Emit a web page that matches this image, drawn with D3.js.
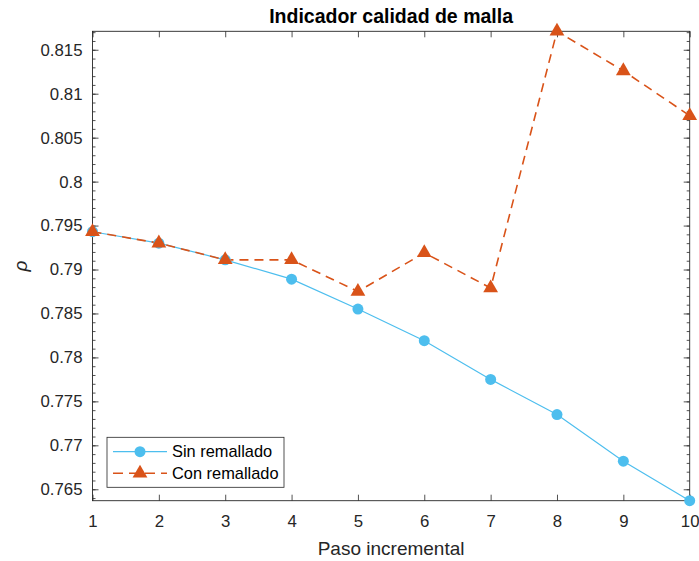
<!DOCTYPE html>
<html>
<head>
<meta charset="utf-8">
<script src="https://cdn.jsdelivr.net/npm/d3@7"></script>
<style>
  html, body { margin: 0; padding: 0; background: #ffffff; }
  svg { display: block; font-family: "Liberation Sans", Arial, Helvetica, sans-serif; }
</style>
</head>
<body>
<svg id="chart" width="699" height="561"></svg>
<script>
const pasos = [1, 2, 3, 4, 5, 6, 7, 8, 9, 10];
const sinRemallado = [0.7943, 0.7930, 0.7911, 0.7889, 0.7855, 0.7819, 0.7775, 0.7735, 0.7682, 0.7637];
const conRemallado = [0.7943, 0.7930, 0.7911, 0.7911, 0.7875, 0.7919, 0.7879, 0.8171, 0.8126, 0.8075];
const xTicks = [1, 2, 3, 4, 5, 6, 7, 8, 9, 10];
const yTicks = [0.765, 0.77, 0.775, 0.78, 0.785, 0.79, 0.795, 0.8, 0.805, 0.81, 0.815];
const yTickLabels = ["0.765", "0.77", "0.775", "0.78", "0.785", "0.79", "0.795", "0.8", "0.805", "0.81", "0.815"];
const seriesNames = ["Sin remallado", "Con remallado"];
const titleText = "Indicador calidad de malla";
const xLabelText = "Paso incremental";
const yLabelText = "ρ";

const W = 699, H = 561;
const L = 92.5, R = 689.7, T = 31.3, B = 500.7;
const axisColor = "#262626";
const cSin = "#4DBEEE", cCon = "#D95319";

const svg = d3.select("#chart");
const allVals = sinRemallado.concat(conRemallado);
const x = d3.scaleLinear().domain([1, 10]).range([L, R]);
const y = d3.scaleLinear().domain([d3.min(allVals), d3.max(allVals)]).range([B, T]);

// minor ticks values
const minor = d3.range(Math.ceil(d3.min(allVals) * 1000), Math.floor(d3.max(allVals) * 1000) + 1).map(v => v / 1000);

// axes
const tickFont = "16.8px";
const gx = svg.append("g").attr("transform", `translate(0,${B})`)
  .call(d3.axisBottom(x).tickValues(xTicks).tickFormat(d3.format("d")).tickSizeInner(-6).tickSizeOuter(0).tickPadding(14));
const gxTop = svg.append("g").attr("transform", `translate(0,${T})`)
  .call(d3.axisTop(x).tickValues(xTicks).tickFormat("").tickSizeInner(-6).tickSizeOuter(0));
const gy = svg.append("g").attr("transform", `translate(${L},0)`)
  .call(d3.axisLeft(y).tickValues(yTicks).tickFormat((d, i) => yTickLabels[i]).tickSizeInner(-6).tickSizeOuter(0).tickPadding(10));
const gyMinor = svg.append("g").attr("transform", `translate(${L},0)`)
  .call(d3.axisLeft(y).tickValues(minor).tickFormat("").tickSizeInner(-3).tickSizeOuter(0));
const gyR = svg.append("g").attr("transform", `translate(${R},0)`)
  .call(d3.axisRight(y).tickValues(yTicks).tickFormat("").tickSizeInner(-6).tickSizeOuter(0));
const gyRMinor = svg.append("g").attr("transform", `translate(${R},0)`)
  .call(d3.axisRight(y).tickValues(minor).tickFormat("").tickSizeInner(-3).tickSizeOuter(0));

[gx, gxTop, gy, gyMinor, gyR, gyRMinor].forEach(g => {
  g.select(".domain").remove();
  g.selectAll(".tick line").attr("stroke", axisColor).attr("stroke-width", 0.8);
  g.selectAll(".tick text").attr("fill", axisColor).style("font-size", tickFont)
    .style("font-family", "'Liberation Sans', Arial, sans-serif");
});
gx.selectAll(".tick text").attr("dy", "0.71em");

// box
svg.append("rect").attr("x", L).attr("y", T).attr("width", R - L).attr("height", B - T)
  .attr("fill", "none").attr("stroke", axisColor).attr("stroke-width", 0.9);

// lines
const line = d3.line().x((d, i) => x(pasos[i])).y(d => y(d));
svg.append("path").datum(sinRemallado).attr("d", line)
  .attr("fill", "none").attr("stroke", cSin).attr("stroke-width", 1.2);
svg.append("path").datum(conRemallado).attr("d", line)
  .attr("fill", "none").attr("stroke", cCon).attr("stroke-width", 1.6).attr("stroke-dasharray", "9,6");

// markers
svg.append("g").selectAll("circle").data(sinRemallado).join("circle")
  .attr("cx", (d, i) => x(pasos[i])).attr("cy", d => y(d)).attr("r", 5.5).attr("fill", cSin);
const tri = d3.symbol().type(d3.symbolTriangle).size(95);
svg.append("g").selectAll("path").data(conRemallado).join("path")
  .attr("d", tri).attr("transform", (d, i) => `translate(${x(pasos[i])},${y(d)})`).attr("fill", cCon);

// title and labels
svg.append("text").attr("x", (L + R) / 2).attr("y", 22.5).attr("text-anchor", "middle")
  .style("font-size", "19.5px").style("font-weight", "bold").attr("fill", "#000").text(titleText);
svg.append("text").attr("x", (L + R) / 2).attr("y", 555).attr("text-anchor", "middle")
  .style("font-size", "19px").attr("fill", axisColor).text(xLabelText);
svg.append("text").attr("transform", `translate(27,${(T + B) / 2}) rotate(-90)`).attr("text-anchor", "middle")
  .style("font-size", "19px").style("font-style", "italic").attr("fill", axisColor).text(yLabelText);

// legend
const lg = svg.append("g");
lg.append("rect").attr("x", 107).attr("y", 437.3).attr("width", 177).attr("height", 50)
  .attr("fill", "#fff").attr("stroke", axisColor).attr("stroke-width", 0.8);
const legendRows = [
  { name: seriesNames[0], color: cSin, dash: null, w: 1.2, marker: "circle", yy: 451.7 },
  { name: seriesNames[1], color: cCon, dash: "9,6", w: 1.6, marker: "tri", yy: 473.3 }
];
legendRows.forEach(r => {
  lg.append("line").attr("x1", 113).attr("x2", 167).attr("y1", r.yy).attr("y2", r.yy)
    .attr("stroke", r.color).attr("stroke-width", r.w).attr("stroke-dasharray", r.dash ? "10,6" : null);
  if (r.marker === "circle") {
    lg.append("circle").attr("cx", 140).attr("cy", r.yy).attr("r", 5.5).attr("fill", r.color);
  } else {
    lg.append("path").attr("d", tri).attr("transform", `translate(140,${r.yy})`).attr("fill", r.color);
  }
  lg.append("text").attr("x", 172).attr("y", r.yy).attr("dy", "0.35em")
    .style("font-size", "16.4px").attr("fill", "#000").text(r.name);
});
</script>
</body>
</html>
